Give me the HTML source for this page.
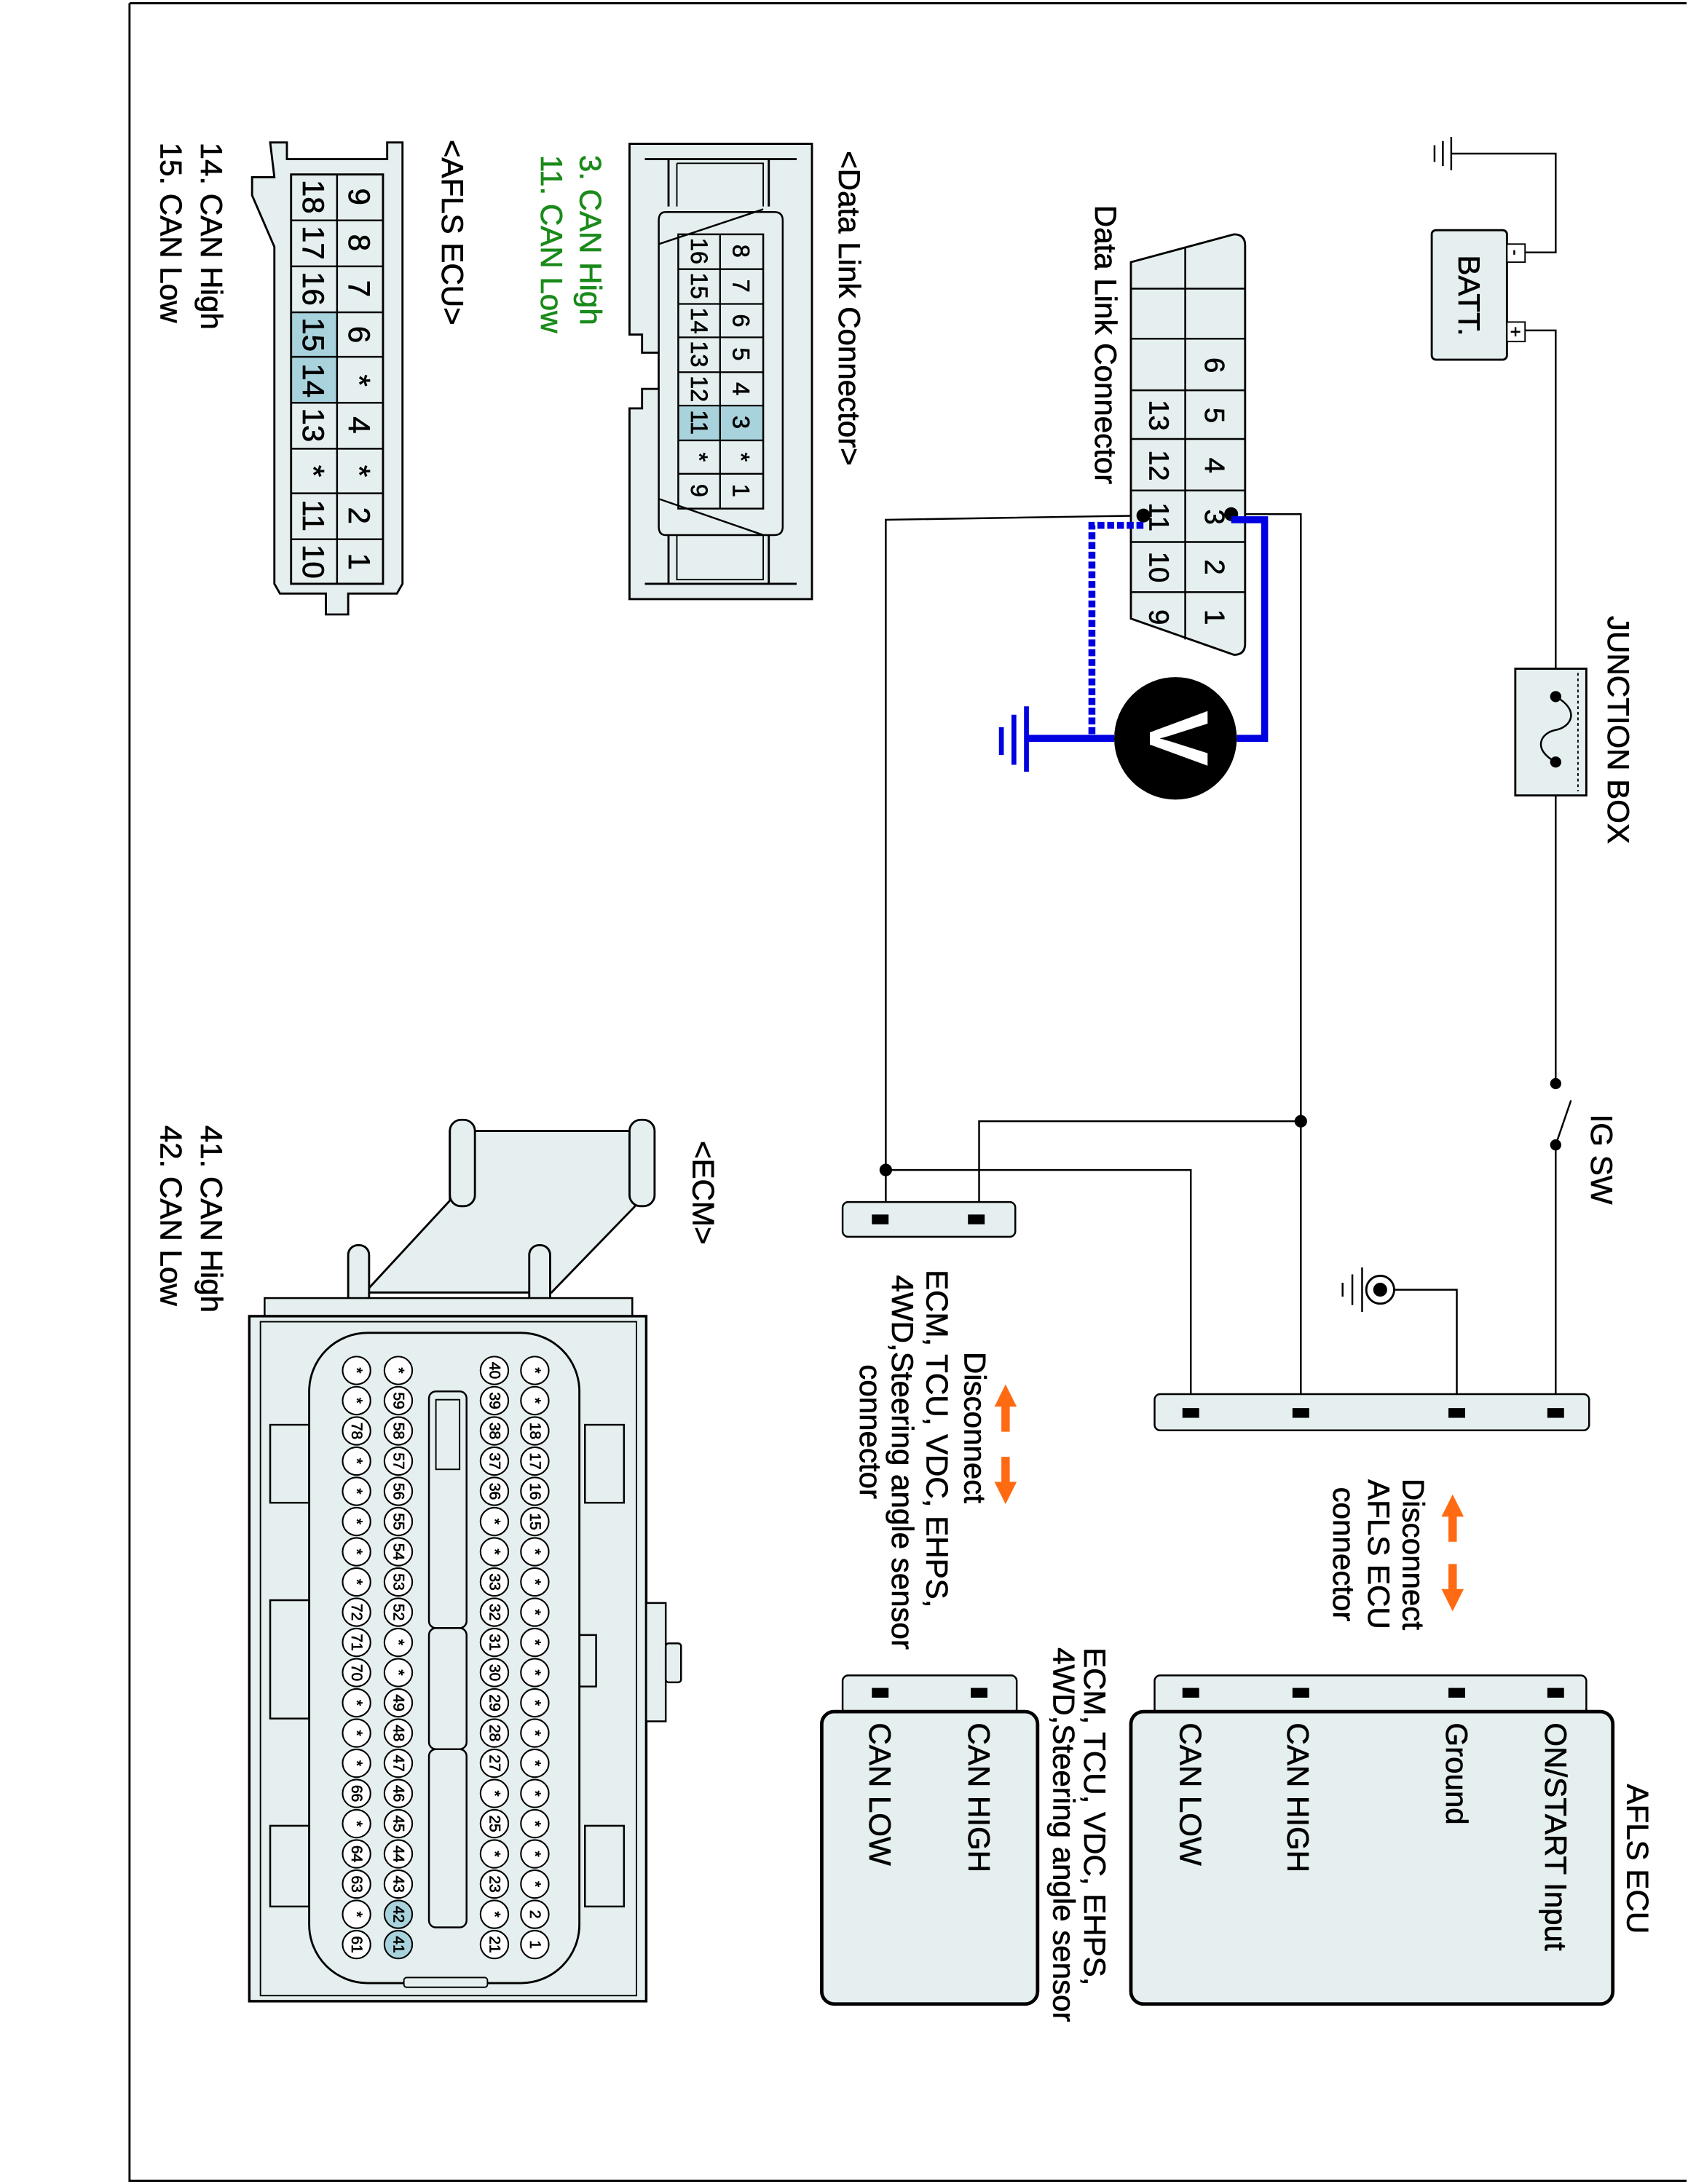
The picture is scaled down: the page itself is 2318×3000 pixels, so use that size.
<!DOCTYPE html>
<html><head><meta charset="utf-8"><style>html,body{margin:0;padding:0;background:#fff}svg{display:block}text{stroke:#000;stroke-width:0.35px}</style></head>
<body>
<svg width="2318" height="3000" viewBox="0 0 1212 1568" xmlns="http://www.w3.org/2000/svg" font-family="Liberation Sans, Arial, sans-serif">
<rect x="0" y="0" width="1212" height="1568" fill="#fff"/>
<path d="M93,2 H1211 M93,2 V1566 H1211" fill="none" stroke="#000" stroke-width="1.5"/>
<g fill="none" stroke="#000" stroke-width="1.3">
<path d="M1042,110 H1117 V181 H1095"/>
<path d="M1095,237 H1117 V500"/><path d="M1117,547 V778"/><path d="M1117,822 V1015"/>
<path d="M884,369 H934 V1015"/><path d="M934,805 H703 V875"/>
<path d="M821,370 L636,373 V875"/><path d="M636,840 H855 V1015"/>
<path d="M1000,926 H1046 V1015"/>
<path d="M1117,822 L1128,790"/>
</g>
<g stroke="#000" stroke-width="1.3"><path d="M1030,104 V116 M1036,101 V119 M1042,98 V122"/></g>
<rect x="1028" y="165" width="54" height="93" rx="3" fill="#e6efef" stroke="#000" stroke-width="1.5"/>
<rect x="1082" y="175" width="13" height="13" fill="#fff" stroke="#000"/><rect x="1082" y="231" width="13" height="14" fill="#fff" stroke="#000"/>
<text font-size="12" transform="translate(1088,181) rotate(90)" text-anchor="middle" dominant-baseline="central">-</text>
<text font-size="13" transform="translate(1088,238) rotate(90)" text-anchor="middle" dominant-baseline="central">+</text>
<rect x="1088" y="480" width="51" height="91" fill="#e6efef" stroke="#000" stroke-width="1.5"/>
<path d="M1133,483 V568" stroke="#000" stroke-dasharray="2,2"/>
<path d="M1117,500 C1135,510 1128,522 1117,524 C1106,526 1100,538 1117,547" fill="none" stroke="#000" stroke-width="1.3"/>
<circle cx="1117" cy="500" r="4"/><circle cx="1117" cy="547" r="4"/>
<circle cx="1117" cy="778" r="4"/><circle cx="1117" cy="822" r="4"/>
<circle cx="934" cy="805" r="4.5"/><circle cx="636" cy="840" r="4.5"/>
<circle cx="991" cy="926" r="10" fill="#fff" stroke="#000" stroke-width="1.5"/><circle cx="991" cy="926" r="5"/>
<path d="M978,910 V942 M971,915 V937 M964,921 V931" stroke="#000" stroke-width="1.3"/>
<path d="M812,188 L886,168 Q894,168 894,176 V462 Q894,470 886,470 L812,444 Z" fill="#e6efef" stroke="#000" stroke-width="1.5"/>
<g stroke="#000" stroke-width="1.3"><path d="M851,178 V459"/><path d="M812,207 H894 M812,243 H894 M812,280 H894 M812,315 H894 M812,352 H894 M812,389 H894 M812,425 H894"/></g>
<g font-size="20" text-anchor="middle" dominant-baseline="central">
<text transform="translate(872,262) rotate(90)">6</text><text transform="translate(872,298) rotate(90)">5</text><text transform="translate(872,334) rotate(90)">4</text><text transform="translate(872,371) rotate(90)">3</text><text transform="translate(872,407) rotate(90)">2</text><text transform="translate(872,443) rotate(90)">1</text>
<text transform="translate(832,298) rotate(90)">13</text><text transform="translate(832,334) rotate(90)">12</text><text transform="translate(832,371) rotate(90)">11</text><text transform="translate(832,407) rotate(90)">10</text><text transform="translate(832,443) rotate(90)">9</text>
</g>
<circle cx="884" cy="369" r="5"/><circle cx="821" cy="370" r="5"/>
<path d="M884,373 H908 V530 H888" fill="none" stroke="#0000e0" stroke-width="5"/>
<path d="M821,377 H784 V530" fill="none" stroke="#0000e0" stroke-width="5" stroke-dasharray="5,2"/>
<path d="M800,530 H737" fill="none" stroke="#0000e0" stroke-width="5"/>
<path d="M737,507 V554 M728,513 V549 M719,522 V542" stroke="#0000e0" stroke-width="3.5"/>
<circle cx="844" cy="530" r="44"/>
<text font-size="60" font-weight="bold" fill="#fff" style="stroke:none" transform="translate(846,530) rotate(90)" text-anchor="middle" dominant-baseline="central">V</text>
<rect x="829" y="1001" width="312" height="26" rx="4" fill="#e6efef" stroke="#000" stroke-width="1.3"/>
<rect x="605" y="863" width="124" height="25" rx="4" fill="#e6efef" stroke="#000" stroke-width="1.3"/>
<g fill="#000"><rect x="849" y="1011" width="12" height="7"/><rect x="928" y="1011" width="12" height="7"/><rect x="1040" y="1011" width="12" height="7"/><rect x="1111" y="1011" width="12" height="7"/>
<rect x="626" y="872" width="12" height="7"/><rect x="695" y="872" width="12" height="7"/></g>
<path d="M1043,1073 L1051,1089 H1046 V1107 H1040 V1089 H1035 Z M1043,1157 L1051,1141 H1046 V1123 H1040 V1141 H1035 Z" fill="#ff6a13"/>
<path d="M722,994 L730,1010 H725 V1028 H719 V1010 H714 Z M722,1080 L730,1064 H725 V1046 H719 V1064 H714 Z" fill="#ff6a13"/>
<rect x="829" y="1203" width="310" height="28" rx="4" fill="#e6efef" stroke="#000" stroke-width="1.3"/>
<rect x="812" y="1229" width="346" height="210" rx="9" fill="#e6efef" stroke="#000" stroke-width="2.5"/>
<rect x="605" y="1203" width="125" height="28" rx="4" fill="#e6efef" stroke="#000" stroke-width="1.3"/>
<rect x="590" y="1229" width="155" height="210" rx="9" fill="#e6efef" stroke="#000" stroke-width="2.5"/>
<g fill="#000"><rect x="849" y="1212" width="12" height="7"/><rect x="928" y="1212" width="12" height="7"/><rect x="1040" y="1212" width="12" height="7"/><rect x="1111" y="1212" width="12" height="7"/>
<rect x="626" y="1212" width="12" height="7"/><rect x="697" y="1212" width="12" height="7"/></g>
<g font-size="22" dominant-baseline="central">
<text transform="translate(1055,212) rotate(90)" text-anchor="middle">BATT.</text>
<text transform="translate(1162,442) rotate(90)">JUNCTION BOX</text>
<text transform="translate(1150,800) rotate(90)">IG SW</text>
<text transform="translate(794,147) rotate(90)">Data Link Connector</text>
<text transform="translate(1176,1281) rotate(90)">AFLS ECU</text>
<text transform="translate(1117,1237) rotate(90)">ON/START Input</text>
<text transform="translate(1046,1237) rotate(90)">Ground</text>
<text transform="translate(932,1237) rotate(90)">CAN HIGH</text>
<text transform="translate(855,1237) rotate(90)">CAN LOW</text>
<text transform="translate(703,1237) rotate(90)">CAN HIGH</text>
<text transform="translate(632,1237) rotate(90)">CAN LOW</text>
<text transform="translate(786,1183) rotate(90)">ECM, TCU, VDC, EHPS,</text>
<text transform="translate(764,1183) rotate(90)">4WD,Steering angle sensor</text>
<text transform="translate(1015,1116) rotate(90)" text-anchor="middle">Disconnect</text>
<text transform="translate(990,1116) rotate(90)" text-anchor="middle">AFLS ECU</text>
<text transform="translate(965,1116) rotate(90)" text-anchor="middle">connector</text>
<text transform="translate(700,1025) rotate(90)" text-anchor="middle">Disconnect</text>
<text transform="translate(673,1033) rotate(90)" text-anchor="middle">ECM, TCU, VDC, EHPS,</text>
<text transform="translate(648,1050) rotate(90)" text-anchor="middle">4WD,Steering angle sensor</text>
<text transform="translate(625,1028) rotate(90)" text-anchor="middle">connector</text>
<text transform="translate(610,108) rotate(90)">&lt;Data Link Connector&gt;</text>
<text transform="translate(424,111) rotate(90)" fill="#1a8a1a" style="stroke:#1a8a1a">3. CAN High</text>
<text transform="translate(396,111) rotate(90)" fill="#1a8a1a" style="stroke:#1a8a1a">11. CAN Low</text>
<text transform="translate(325,100) rotate(90)">&lt;AFLS ECU&gt;</text>
<text transform="translate(152,102) rotate(90)">14. CAN High</text>
<text transform="translate(123,102) rotate(90)">15. CAN Low</text>
<text transform="translate(505,819) rotate(90)">&lt;ECM&gt;</text>
<text transform="translate(152,808) rotate(90)">41. CAN High</text>
<text transform="translate(123,808) rotate(90)">42. CAN Low</text>
</g>
<path d="M452,103 H583 V430 H452 V293 H461 V279 H473 V253 H461 V240 H452 Z" fill="#e6efef" stroke="#000" stroke-width="1.5"/>
<path d="M463,114 H572 M463,419 H572 M480,114 V148 M552,114 V148 M480,384 V419 M552,384 V419" stroke="#000" stroke-width="1.5" fill="none"/>
<path d="M486,117 H548 V148 M486,117 V148 M486,384 V416 H548 V384" stroke="#000" stroke-width="1" fill="#e6efef"/>
<path d="M478,152 H556 Q562,152 562,158 V378 Q562,384 556,384 H478 Q473,384 473,378 V158 Q473,152 478,152 Z" fill="#e6efef" stroke="#000" stroke-width="1.3"/>
<path d="M473,175 L548,150 M473,358 L548,384" stroke="#000" stroke-width="1.3"/>
<rect x="487" y="291" width="61" height="25" fill="#a9d3dc"/>
<rect x="487" y="168" width="61" height="197" fill="none" stroke="#000" stroke-width="1.3"/>
<path d="M517,168 V365 M487,193 H548 M487,218 H548 M487,242 H548 M487,267 H548 M487,291 H548 M487,316 H548 M487,340 H548" stroke="#000" stroke-width="1.2"/>
<g font-size="17" text-anchor="middle" dominant-baseline="central">
<text transform="translate(532,180) rotate(90)">8</text><text transform="translate(532,205) rotate(90)">7</text><text transform="translate(532,230) rotate(90)">6</text><text transform="translate(532,254) rotate(90)">5</text><text transform="translate(532,279) rotate(90)">4</text><text transform="translate(532,303) rotate(90)">3</text><text transform="translate(532,328) rotate(90)">*</text><text transform="translate(532,352) rotate(90)">1</text>
<text transform="translate(502,180) rotate(90)">16</text><text transform="translate(502,205) rotate(90)">15</text><text transform="translate(502,230) rotate(90)">14</text><text transform="translate(502,254) rotate(90)">13</text><text transform="translate(502,279) rotate(90)">12</text><text transform="translate(502,303) rotate(90)">11</text><text transform="translate(502,328) rotate(90)">*</text><text transform="translate(502,352) rotate(90)">9</text>
</g>
<path d="M194,102 H206 V114 H278 V102 H289 V419 L285,426 H250 V441 H234 V426 H201 L197,419 V177 L181,140 V127 H197 Z" fill="#e6efef" stroke="#000" stroke-width="1.5"/>
<rect x="209" y="224" width="33" height="65" fill="#a9d3dc"/>
<rect x="209" y="125" width="66" height="294" fill="none" stroke="#000" stroke-width="1.5"/>
<path d="M242,125 V419 M209,158 H275 M209,191 H275 M209,224 H275 M209,256 H275 M209,289 H275 M209,322 H275 M209,354 H275 M209,387 H275" stroke="#000" stroke-width="1.3"/>
<g font-size="22" text-anchor="middle" dominant-baseline="central">
<text transform="translate(258,141) rotate(90)">9</text><text transform="translate(258,174) rotate(90)">8</text><text transform="translate(258,207) rotate(90)">7</text><text transform="translate(258,240) rotate(90)">6</text><text transform="translate(258,273) rotate(90)">*</text><text transform="translate(258,305) rotate(90)">4</text><text transform="translate(258,338) rotate(90)">*</text><text transform="translate(258,370) rotate(90)">2</text><text transform="translate(258,403) rotate(90)">1</text>
<text transform="translate(225,141) rotate(90)">18</text><text transform="translate(225,174) rotate(90)">17</text><text transform="translate(225,207) rotate(90)">16</text><text transform="translate(225,240) rotate(90)">15</text><text transform="translate(225,273) rotate(90)">14</text><text transform="translate(225,305) rotate(90)">13</text><text transform="translate(225,338) rotate(90)">*</text><text transform="translate(225,370) rotate(90)">11</text><text transform="translate(225,403) rotate(90)">10</text>
</g>
<path d="M341,812 H456 V866 L396,928 H262 L323,862 V812 Z" fill="#e6efef" stroke="#000" stroke-width="1.5"/>
<rect x="323" y="804" width="18" height="62" rx="8" fill="#e6efef" stroke="#000" stroke-width="1.5"/>
<rect x="452" y="804" width="18" height="62" rx="8" fill="#e6efef" stroke="#000" stroke-width="1.5"/>
<rect x="250" y="894" width="15" height="55" rx="7" fill="#e6efef" stroke="#000" stroke-width="1.5"/>
<rect x="380" y="894" width="15" height="55" rx="7" fill="#e6efef" stroke="#000" stroke-width="1.5"/>
<rect x="190" y="932" width="264" height="15" fill="#e6efef" stroke="#000" stroke-width="1.3"/>
<rect x="179" y="945" width="285" height="492" fill="#e6efef" stroke="#000" stroke-width="1.8"/>
<rect x="187" y="949" width="270" height="484" fill="none" stroke="#000" stroke-width="1"/>
<rect x="464" y="1151" width="14" height="85" fill="#e6efef" stroke="#000" stroke-width="1.3"/>
<rect x="478" y="1180" width="11" height="28" rx="2" fill="#e6efef" stroke="#000" stroke-width="1.3"/>
<g fill="#e6efef" stroke="#000" stroke-width="1.3">
<rect x="194" y="1023" width="28" height="56"/><rect x="194" y="1311" width="28" height="58"/>
<rect x="420" y="1023" width="28" height="56"/><rect x="420" y="1311" width="28" height="58"/>
<rect x="194" y="1149" width="28" height="85"/><rect x="414" y="1174" width="14" height="37"/>
</g>
<rect x="222" y="957" width="194" height="467" rx="42" fill="#e6efef" stroke="#000" stroke-width="1.5"/>
<rect x="308" y="999" width="27" height="170" rx="5" fill="#e6efef" stroke="#000" stroke-width="1.3"/>
<rect x="308" y="1169" width="27" height="87" rx="5" fill="#e6efef" stroke="#000" stroke-width="1.3"/>
<rect x="308" y="1256" width="27" height="128" rx="5" fill="#e6efef" stroke="#000" stroke-width="1.3"/>
<rect x="313" y="1005" width="17" height="50" fill="none" stroke="#000" stroke-width="1"/>
<rect x="290" y="1420" width="60" height="7" rx="2" fill="#e6efef" stroke="#000" stroke-width="1"/>
<g font-size="11" text-anchor="middle" dominant-baseline="central" stroke-width="1.1">
<g fill="#fff" stroke="#000">
<circle cx="384" cy="984" r="10"/><circle cx="384" cy="1005.7" r="10"/><circle cx="384" cy="1027.4" r="10"/><circle cx="384" cy="1049.1" r="10"/><circle cx="384" cy="1070.8" r="10"/><circle cx="384" cy="1092.5" r="10"/><circle cx="384" cy="1114.2" r="10"/><circle cx="384" cy="1135.9" r="10"/><circle cx="384" cy="1157.6" r="10"/><circle cx="384" cy="1179.3" r="10"/><circle cx="384" cy="1201" r="10"/><circle cx="384" cy="1222.7" r="10"/><circle cx="384" cy="1244.4" r="10"/><circle cx="384" cy="1266.1" r="10"/><circle cx="384" cy="1287.8" r="10"/><circle cx="384" cy="1309.5" r="10"/><circle cx="384" cy="1331.2" r="10"/><circle cx="384" cy="1352.9" r="10"/><circle cx="384" cy="1374.6" r="10"/><circle cx="384" cy="1396.3" r="10"/>
<circle cx="355" cy="984" r="10"/><circle cx="355" cy="1005.7" r="10"/><circle cx="355" cy="1027.4" r="10"/><circle cx="355" cy="1049.1" r="10"/><circle cx="355" cy="1070.8" r="10"/><circle cx="355" cy="1092.5" r="10"/><circle cx="355" cy="1114.2" r="10"/><circle cx="355" cy="1135.9" r="10"/><circle cx="355" cy="1157.6" r="10"/><circle cx="355" cy="1179.3" r="10"/><circle cx="355" cy="1201" r="10"/><circle cx="355" cy="1222.7" r="10"/><circle cx="355" cy="1244.4" r="10"/><circle cx="355" cy="1266.1" r="10"/><circle cx="355" cy="1287.8" r="10"/><circle cx="355" cy="1309.5" r="10"/><circle cx="355" cy="1331.2" r="10"/><circle cx="355" cy="1352.9" r="10"/><circle cx="355" cy="1374.6" r="10"/><circle cx="355" cy="1396.3" r="10"/>
<circle cx="286" cy="984" r="10"/><circle cx="286" cy="1005.7" r="10"/><circle cx="286" cy="1027.4" r="10"/><circle cx="286" cy="1049.1" r="10"/><circle cx="286" cy="1070.8" r="10"/><circle cx="286" cy="1092.5" r="10"/><circle cx="286" cy="1114.2" r="10"/><circle cx="286" cy="1135.9" r="10"/><circle cx="286" cy="1157.6" r="10"/><circle cx="286" cy="1179.3" r="10"/><circle cx="286" cy="1201" r="10"/><circle cx="286" cy="1222.7" r="10"/><circle cx="286" cy="1244.4" r="10"/><circle cx="286" cy="1266.1" r="10"/><circle cx="286" cy="1287.8" r="10"/><circle cx="286" cy="1309.5" r="10"/><circle cx="286" cy="1331.2" r="10"/><circle cx="286" cy="1352.9" r="10"/><circle cx="286" cy="1374.6" r="10" fill="#a9d3dc"/><circle cx="286" cy="1396.3" r="10" fill="#a9d3dc"/>
<circle cx="256" cy="984" r="10"/><circle cx="256" cy="1005.7" r="10"/><circle cx="256" cy="1027.4" r="10"/><circle cx="256" cy="1049.1" r="10"/><circle cx="256" cy="1070.8" r="10"/><circle cx="256" cy="1092.5" r="10"/><circle cx="256" cy="1114.2" r="10"/><circle cx="256" cy="1135.9" r="10"/><circle cx="256" cy="1157.6" r="10"/><circle cx="256" cy="1179.3" r="10"/><circle cx="256" cy="1201" r="10"/><circle cx="256" cy="1222.7" r="10"/><circle cx="256" cy="1244.4" r="10"/><circle cx="256" cy="1266.1" r="10"/><circle cx="256" cy="1287.8" r="10"/><circle cx="256" cy="1309.5" r="10"/><circle cx="256" cy="1331.2" r="10"/><circle cx="256" cy="1352.9" r="10"/><circle cx="256" cy="1374.6" r="10"/><circle cx="256" cy="1396.3" r="10"/>
</g>
<g fill="#000">
<text transform="translate(384,984) rotate(90)">*</text><text transform="translate(384,1005.7) rotate(90)">*</text><text transform="translate(384,1027.4) rotate(90)">18</text><text transform="translate(384,1049.1) rotate(90)">17</text><text transform="translate(384,1070.8) rotate(90)">16</text><text transform="translate(384,1092.5) rotate(90)">15</text><text transform="translate(384,1114.2) rotate(90)">*</text><text transform="translate(384,1135.9) rotate(90)">*</text><text transform="translate(384,1157.6) rotate(90)">*</text><text transform="translate(384,1179.3) rotate(90)">*</text><text transform="translate(384,1201) rotate(90)">*</text><text transform="translate(384,1222.7) rotate(90)">*</text><text transform="translate(384,1244.4) rotate(90)">*</text><text transform="translate(384,1266.1) rotate(90)">*</text><text transform="translate(384,1287.8) rotate(90)">*</text><text transform="translate(384,1309.5) rotate(90)">*</text><text transform="translate(384,1331.2) rotate(90)">*</text><text transform="translate(384,1352.9) rotate(90)">*</text><text transform="translate(384,1374.6) rotate(90)">2</text><text transform="translate(384,1396.3) rotate(90)">1</text>
<text transform="translate(355,984) rotate(90)">40</text><text transform="translate(355,1005.7) rotate(90)">39</text><text transform="translate(355,1027.4) rotate(90)">38</text><text transform="translate(355,1049.1) rotate(90)">37</text><text transform="translate(355,1070.8) rotate(90)">36</text><text transform="translate(355,1092.5) rotate(90)">*</text><text transform="translate(355,1114.2) rotate(90)">*</text><text transform="translate(355,1135.9) rotate(90)">33</text><text transform="translate(355,1157.6) rotate(90)">32</text><text transform="translate(355,1179.3) rotate(90)">31</text><text transform="translate(355,1201) rotate(90)">30</text><text transform="translate(355,1222.7) rotate(90)">29</text><text transform="translate(355,1244.4) rotate(90)">28</text><text transform="translate(355,1266.1) rotate(90)">27</text><text transform="translate(355,1287.8) rotate(90)">*</text><text transform="translate(355,1309.5) rotate(90)">25</text><text transform="translate(355,1331.2) rotate(90)">*</text><text transform="translate(355,1352.9) rotate(90)">23</text><text transform="translate(355,1374.6) rotate(90)">*</text><text transform="translate(355,1396.3) rotate(90)">21</text>
<text transform="translate(286,984) rotate(90)">*</text><text transform="translate(286,1005.7) rotate(90)">59</text><text transform="translate(286,1027.4) rotate(90)">58</text><text transform="translate(286,1049.1) rotate(90)">57</text><text transform="translate(286,1070.8) rotate(90)">56</text><text transform="translate(286,1092.5) rotate(90)">55</text><text transform="translate(286,1114.2) rotate(90)">54</text><text transform="translate(286,1135.9) rotate(90)">53</text><text transform="translate(286,1157.6) rotate(90)">52</text><text transform="translate(286,1179.3) rotate(90)">*</text><text transform="translate(286,1201) rotate(90)">*</text><text transform="translate(286,1222.7) rotate(90)">49</text><text transform="translate(286,1244.4) rotate(90)">48</text><text transform="translate(286,1266.1) rotate(90)">47</text><text transform="translate(286,1287.8) rotate(90)">46</text><text transform="translate(286,1309.5) rotate(90)">45</text><text transform="translate(286,1331.2) rotate(90)">44</text><text transform="translate(286,1352.9) rotate(90)">43</text><text transform="translate(286,1374.6) rotate(90)">42</text><text transform="translate(286,1396.3) rotate(90)">41</text>
<text transform="translate(256,984) rotate(90)">*</text><text transform="translate(256,1005.7) rotate(90)">*</text><text transform="translate(256,1027.4) rotate(90)">78</text><text transform="translate(256,1049.1) rotate(90)">*</text><text transform="translate(256,1070.8) rotate(90)">*</text><text transform="translate(256,1092.5) rotate(90)">*</text><text transform="translate(256,1114.2) rotate(90)">*</text><text transform="translate(256,1135.9) rotate(90)">*</text><text transform="translate(256,1157.6) rotate(90)">72</text><text transform="translate(256,1179.3) rotate(90)">71</text><text transform="translate(256,1201) rotate(90)">70</text><text transform="translate(256,1222.7) rotate(90)">*</text><text transform="translate(256,1244.4) rotate(90)">*</text><text transform="translate(256,1266.1) rotate(90)">*</text><text transform="translate(256,1287.8) rotate(90)">66</text><text transform="translate(256,1309.5) rotate(90)">*</text><text transform="translate(256,1331.2) rotate(90)">64</text><text transform="translate(256,1352.9) rotate(90)">63</text><text transform="translate(256,1374.6) rotate(90)">*</text><text transform="translate(256,1396.3) rotate(90)">61</text>
</g>
</g>
</svg>
</body></html>
